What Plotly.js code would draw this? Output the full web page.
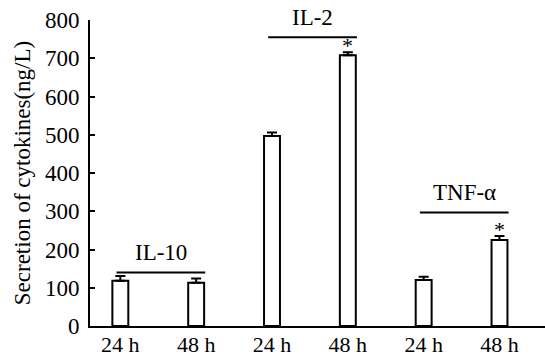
<!DOCTYPE html>
<html>
<head>
<meta charset="utf-8">
<script src="https://cdn.plot.ly/plotly-3.0.1.min.js"></script>
<style>html,body{margin:0;padding:0;background:#fff;}#chart{width:545px;height:358px;}</style>
</head>
<body>
<div id="chart"></div>
<script>
// ---- data ----
const tickLabels = ['24 h', '48 h', '24 h', '48 h', '24 h', '48 h'];
const values = [118, 113, 497, 708, 120, 225];
const errors = [13, 11, 9, 8, 9, 10];
const significant = [false, false, false, true, false, true];
const groupNames = ['IL-10', 'IL-2', 'TNF-\u03b1'];
const groupFirstBar = [0, 2, 4];
const groupLastBar = [1, 3, 5];
const groupLineLevel = [140, 755, 297];

const FONT = '"Liberation Serif"';
const xs = tickLabels.map((_, i) => i);

const traces = [{
  type: 'bar',
  x: xs,
  y: values,
  width: 0.21,
  marker: {color: '#ffffff', line: {color: '#000000', width: 2}},
  error_y: {type: 'data', symmetric: false, array: errors, arrayminus: errors.map(() => 0),
            color: '#000000', thickness: 2, width: 5},
  hoverinfo: 'skip',
  showlegend: false
}];

// group bracket lines
groupNames.forEach((g, k) => {
  traces.push({
    type: 'scatter', mode: 'lines',
    x: [groupFirstBar[k] - 0.05, groupLastBar[k] + 0.12],
    y: [groupLineLevel[k], groupLineLevel[k]],
    line: {color: '#000000', width: 2},
    hoverinfo: 'skip', showlegend: false
  });
});

const annotations = [];
groupNames.forEach((g, k) => {
  annotations.push({
    x: (groupFirstBar[k] - 0.05 + groupLastBar[k] + 0.12) / 2,
    y: groupLineLevel[k], xref: 'x', yref: 'y',
    text: g, showarrow: false, yanchor: 'bottom', yshift: 5,
    font: {family: FONT, size: 23, color: '#000000'}
  });
});
significant.forEach((s, i) => {
  if (!s) return;
  annotations.push({
    x: i, y: values[i] + errors[i], xref: 'x', yref: 'y',
    text: '*', showarrow: false, yanchor: 'bottom', yshift: -8,
    font: {family: FONT, size: 22, color: '#000000'}
  });
});

const layout = {
  width: 545, height: 358,
  margin: {l: 90, r: 0, t: 20, b: 32},
  paper_bgcolor: '#ffffff', plot_bgcolor: '#ffffff',
  font: {family: FONT, size: 23, color: '#000000'},
  xaxis: {
    range: [-0.4, 5.6], tickvals: xs, ticktext: tickLabels,
    showgrid: false, zeroline: false, showline: true, linecolor: '#000000', linewidth: 2,
    ticks: '', tickfont: {family: FONT, size: 22, color: '#000000'}, ticklabelstandoff: -2
  },
  yaxis: {
    range: [0, 800], dtick: 100, tick0: 0,
    showgrid: false, zeroline: false, showline: true, linecolor: '#000000', linewidth: 2,
    ticks: 'inside', ticklen: 5, tickwidth: 2, tickcolor: '#000000',
    tickfont: {family: FONT, size: 23, color: '#000000'}, ticklabelstandoff: 4,
    title: {text: 'Secretion of cytokines(ng/L)', font: {family: FONT, size: 23, color: '#000000'}, standoff: 8}
  },
  annotations: annotations,
  showlegend: false
};

Plotly.newPlot('chart', traces, layout, {displayModeBar: false, staticPlot: true});
</script>
</body>
</html>
